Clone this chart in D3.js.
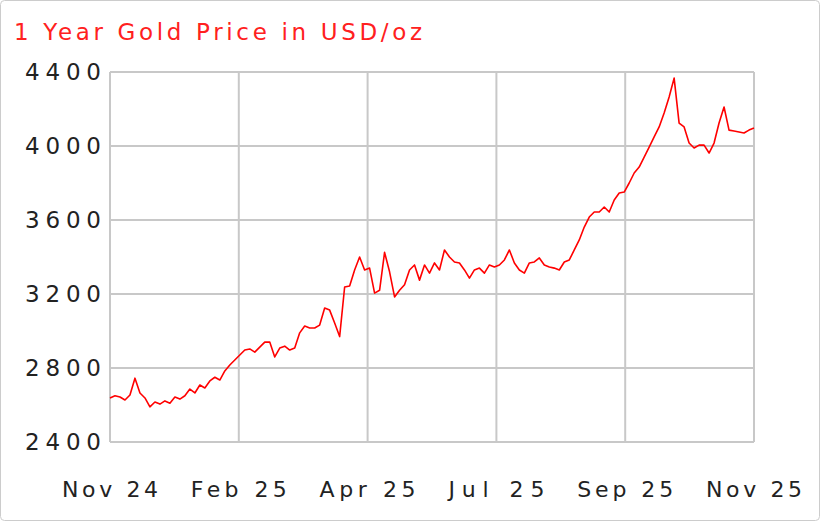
<!DOCTYPE html>
<html><head><meta charset="utf-8">
<script src="https://cdn.jsdelivr.net/npm/d3@7/dist/d3.min.js"></script>
<style>body{margin:0;background:#fff}svg{display:block}</style>
</head><body>
<svg id="chart" width="820" height="521"></svg>
<script>
// gold price, sampled roughly every 5 px across the year
var prices = [2638,2650,2643,2627,2654,2745,2665,2638,2590,2616,2605,2622,2610,2643,2632,2650,2686,2665,2708,2692,
  2730,2750,2735,2784,2816,2843,2870,2897,2903,2886,2913,2940,2940,2860,2908,2918,2897,2908,2990,3027,
  3016,3016,3032,3124,3113,3043,2970,3238,3243,3330,3400,3330,3340,3205,3220,3425,3320,3184,3220,3250,
  3330,3357,3275,3357,3313,3368,3330,3438,3400,3373,3368,3330,3286,3330,3340,3313,3357,3346,3357,3384,
  3438,3368,3330,3313,3368,3373,3395,3357,3346,3340,3330,3373,3384,3438,3492,3562,3616,3643,3643,3670,
  3643,3708,3746,3751,3800,3854,3886,3940,3994,4049,4103,4178,4265,4367,4124,4103,4016,3989,4005,4005,
  3962,4016,4124,4211,4086,4081,4076,4070,4086,4097];
var monthLabels = ["Nov 24","Feb 25","Apr 25","Jul 25","Sep 25","Nov 25"];
var yTicks = [2400,2800,3200,3600,4000,4400];

var svg = d3.select("#chart");
var pLeft = 110, pRight = 754, pTop = 72, pBottom = 442;

svg.append("rect").attr("x",0.5).attr("y",0.5).attr("width",819).attr("height",520)
  .attr("rx",4).attr("fill","#fff").attr("stroke","#ccc");

var x = d3.scaleLinear().domain([0, prices.length - 1]).range([pLeft, pRight]);
var y = d3.scaleLinear().domain([2400, 4400]).range([pBottom, pTop]);
var xTickPos = monthLabels.map(function(d, i){ return i * (prices.length - 1) / 5; });

var grid = svg.append("g").attr("stroke","#c8c8c8").attr("stroke-width",2);
yTicks.forEach(function(t){
  grid.append("line").attr("x1",pLeft).attr("x2",pRight).attr("y1",y(t)).attr("y2",y(t));
});
xTickPos.forEach(function(t){
  grid.append("line").attr("x1",x(t)).attr("x2",x(t)).attr("y1",pTop).attr("y2",pBottom);
});

var line = d3.line().x(function(d,i){ return x(i); }).y(function(d){ return y(d); });
svg.append("path").attr("d", line(prices)).attr("fill","none")
  .attr("stroke","#ff0000").attr("stroke-width",1.6).attr("stroke-linejoin","round");

svg.selectAll(".yl").data(yTicks).enter().append("text")
  .attr("x",101).attr("y",function(d){ return y(d) + 8; })
  .attr("text-anchor","end").attr("font-family","DejaVu Sans").attr("font-size",23)
  .attr("textLength",76).attr("lengthAdjust","spacing")
  .attr("fill","#222").text(function(d){ return d; });

svg.selectAll(".xl").data(monthLabels).enter().append("text")
  .attr("x",function(d,i){ return x(xTickPos[i]) - 48; }).attr("y",497)
  .attr("font-family","DejaVu Sans").attr("font-size",22)
  .attr("textLength",96).attr("lengthAdjust","spacing")
  .attr("fill","#222").text(function(d){ return d; });

svg.append("text").attr("x",14).attr("y",40).attr("font-family","DejaVu Sans")
  .attr("font-size",23).attr("textLength",408).attr("lengthAdjust","spacing")
  .attr("fill","#ff2020").text("1 Year Gold Price in USD/oz");
</script>
</body></html>
